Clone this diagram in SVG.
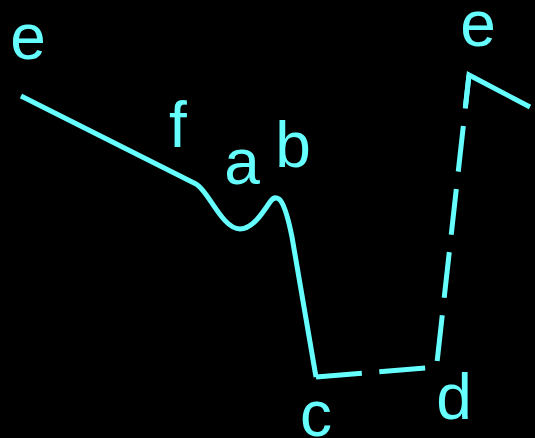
<svg xmlns="http://www.w3.org/2000/svg" width="535" height="438" viewBox="0 0 535 438">
  <style>
    .ln { fill: none; stroke: #66ffff; stroke-width: 5; }
    .lbl { font-family: "Liberation Sans", Arial, sans-serif; font-size: 64px; fill: #66ffff; text-anchor: middle; }
  </style>
  <rect x="0" y="0" width="535" height="438" fill="#000000"/>
  <g id="connectors">
    <path class="ln" stroke-linejoin="miter" d="M21,96 L196,184 C208,190 222,229 240,229 C252,229 262,214 270,202 C273,197.5 276,197 279,199 C284,203 288,217 292,237 L316,377"/>
    <path class="ln" stroke-linejoin="miter" stroke-dasharray="46 17.5" d="M316,377 L436.5,367 L469,75"/>
    <path class="ln" stroke-linejoin="miter" d="M465.5,106 L469,75 L530,107"/>
  </g>
  <g id="node-e1"><text class="lbl" x="28" y="59">e</text></g>
  <g id="node-f"><text class="lbl" x="178" y="147">f</text></g>
  <g id="node-a"><text class="lbl" x="242" y="184">a</text></g>
  <g id="node-b"><text class="lbl" x="293" y="167">b</text></g>
  <g id="node-c"><text class="lbl" x="316" y="436">c</text></g>
  <g id="node-d"><text class="lbl" x="454" y="419">d</text></g>
  <g id="node-e2"><text class="lbl" x="478" y="46">e</text></g>
</svg>
